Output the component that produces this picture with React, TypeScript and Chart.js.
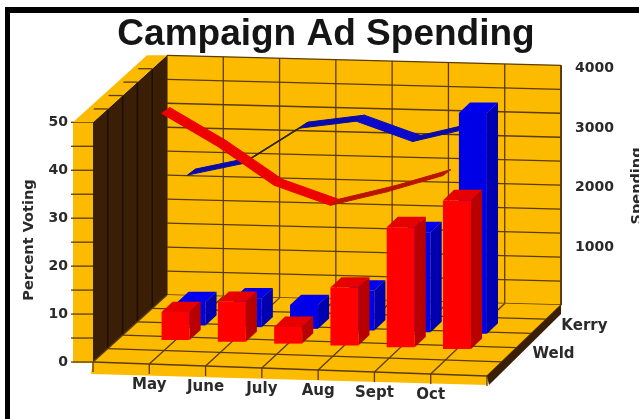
import React, { useEffect, useRef } from "react";
import { Chart, registerables } from "chart.js";

Chart.register(...registerables);

// Months sit on the grid divisions; the blank end slots frame the floor.
const months = ["", "May", "June", "July", "Aug", "Sept", "Oct", ""];
const weldSpending = [null, 470, 670, 280, 970, 2010, 2490, null];
const kerrySpending = [null, 395, 485, 400, 670, 1675, 3700, null];
const weldPercent = [null, 49.8, 43.3, 35.6, 31.8, 35, 38.8, null];
const kerryPercent = [null, 32, 34.8, 42.5, 44.3, 40.4, 43.5, null];
const seriesNames = ["Weld", "Kerry"];
const percentTicks = [0, 5, 10, 15, 20, 25, 30, 35, 40, 45, 50];
const spendingTicks = [1000, 2000, 3000, 4000];

// Depth of each series across the floor, 0 = front edge, 1 = back wall.
const WELD_BAR_DEPTH = 0.355;
const KERRY_DEPTH = 0.57;
const WELD_LINE_DEPTH = 0.22;
const WELD_ROW_LABEL = 0.25;
const KERRY_ROW_LABEL = 0.64;

const YELLOW = "#fdbb00";
const GRID = "#5c3b00";
const BROWN = "#3a1e06";
const LABEL_FONT = "bold 15px 'DejaVu Sans'";
const TEXT = "#2a2a2a";

type Pt = [number, number];

function poly(ctx: CanvasRenderingContext2D, pts: Pt[], fill?: string, stroke?: string, lw = 1) {
  ctx.beginPath();
  pts.forEach((q, i) => (i ? ctx.lineTo(q[0], q[1]) : ctx.moveTo(q[0], q[1])));
  ctx.closePath();
  if (fill) {
    ctx.fillStyle = fill;
    ctx.fill();
  }
  if (stroke) {
    ctx.strokeStyle = stroke;
    ctx.lineWidth = lw;
    ctx.stroke();
  }
}

function seg(ctx: CanvasRenderingContext2D, a: Pt, b: Pt, color = GRID, lw = 1.3) {
  ctx.beginPath();
  ctx.moveTo(a[0], a[1]);
  ctx.lineTo(b[0], b[1]);
  ctx.strokeStyle = color;
  ctx.lineWidth = lw;
  ctx.stroke();
}

// Oblique projection: x along the front edge, h above the floor, d into the depth.
function projector(chart: any) {
  const { left, right, bottom } = chart.chartArea;
  return (x: number, h: number, d: number): Pt => {
    const t = (x - left) / (right - left);
    return [x + 74 * d, bottom + 14 * t - d * (67 + 4 * t) - h];
  };
}

const scene3d = {
  id: "scene3d",
  beforeDraw(chart: any) {
    const { ctx, width, height } = chart;
    ctx.save();
    ctx.fillStyle = "#ffffff";
    ctx.fillRect(0, 0, width, height);
    ctx.fillStyle = "#000000";
    ctx.fillRect(5, 7, width - 5, 6);
    ctx.fillRect(5, 7, 5, height - 7);
    ctx.restore();
  },
  beforeDatasetsDraw(chart: any) {
    const { ctx, chartArea, scales } = chart;
    const p = projector(chart);
    const { left, right } = chartArea;
    const yL = scales.y;
    const zero = yL.getPixelForValue(0);
    const top = zero - yL.getPixelForValue(50);
    const strip = 20;
    const rails = [0.2, 0.4, 0.6, 0.8];
    const slots = months.map((_, i) => scales.x.getPixelForTick(i));
    const heights = yL.ticks.map((t: any) => zero - yL.getPixelForValue(t.value));
    ctx.save();

    // Back wall
    poly(ctx, [p(left, 0, 1), p(left, top, 1), p(right, top, 1), p(right, 0, 1)], YELLOW);
    heights.forEach((h: number) => seg(ctx, p(left, h, 1), p(right, h, 1)));
    slots.forEach((x: number) => seg(ctx, p(x, 0, 1), p(x, top, 1)));
    seg(ctx, p(right, 0, 1), p(right, top, 1), GRID, 2);

    // Left wall, front lip and top lip
    poly(ctx, [p(left, 0, 0), p(left, top, 0), p(left, top, 1), p(left, 0, 1)], BROWN);
    rails.forEach((d) => seg(ctx, p(left, 0, d), p(left, top, d), "#1f0f02", 1.5));
    poly(ctx, [[left - strip, zero - top], [left, zero - top], [left, zero + 1], [left - strip, zero + 1]], YELLOW);
    heights.forEach((h: number) => seg(ctx, [left - strip - 2, zero - h], [left, zero - h]));
    const tf = p(left, top, 0);
    const tb = p(left, top, 1);
    poly(ctx, [[tf[0] - strip, tf[1]], [tb[0] - strip, tb[1]], tb, tf], YELLOW);
    rails.forEach((d) => {
      const q = p(left, top, d);
      seg(ctx, [q[0] - strip * 0.7, q[1]], q);
    });

    // Floor with its front lip and dark right edge
    poly(ctx, [p(left, 0, 0), p(right, 0, 0), p(right, 0, 1), p(left, 0, 1)], YELLOW);
    rails.forEach((d) => seg(ctx, p(left, 0, d), p(right, 0, d)));
    slots.forEach((x: number) => seg(ctx, p(x, 0, 0), p(x, 0, 1)));
    const fl = p(left, 0, 0);
    const fr = p(right, 0, 0);
    const br = p(right, 0, 1);
    poly(ctx, [fl, fr, [fr[0], fr[1] + 9], [fl[0] - 2, fl[1] + 12]], YELLOW);
    seg(ctx, fl, fr);
    slots.forEach((x: number) => {
      const q = p(x, 0, 0);
      seg(ctx, q, [q[0], q[1] + 10]);
    });
    poly(ctx, [fr, br, [br[0], br[1] + 9], [fr[0] + 2, fr[1] + 9]], BROWN);

    // Month labels follow the sloping front edge
    ctx.font = LABEL_FONT;
    ctx.fillStyle = TEXT;
    ctx.textAlign = "center";
    ctx.textBaseline = "middle";
    months.forEach((m, i) => {
      const q = p(slots[i], 0, 0);
      if (m) ctx.fillText(m, q[0], q[1] + 21);
    });

    // Row labels beside the floor's right edge
    ctx.textAlign = "left";
    [WELD_ROW_LABEL, KERRY_ROW_LABEL].forEach((d, i) => {
      const q = p(right, 0, d);
      ctx.fillText(seriesNames[i], q[0] + 27, q[1] - 4);
    });

    // Axis titles
    ctx.font = "bold 14.5px 'DejaVu Sans'";
    ctx.textAlign = "center";
    ctx.save();
    ctx.translate(29, 240);
    ctx.rotate(-Math.PI / 2);
    ctx.fillText("Percent Voting", 0, 0);
    ctx.restore();
    ctx.translate(637, 186);
    ctx.rotate(-Math.PI / 2);
    ctx.fillText("Spending", 0, 0);
    ctx.restore();
  },
  beforeDatasetDraw(chart: any, args: any) {
    const { ctx } = chart;
    const p = projector(chart);
    const meta = args.meta;
    const ds = chart.data.datasets[args.index];
    const d = ds.depth;
    ctx.save();
    if (meta.type === "bar") {
      const deep = 0.15;
      meta.data.forEach((el: any, i: number) => {
        if (ds.data[i] === null) return;
        const h = el.base - el.y;
        const half = el.width / 2;
        const floor = p(el.x, 0, d);
        const back = p(el.x, 0, d + deep);
        const a: Pt = [floor[0] - half, floor[1]];
        const b: Pt = [floor[0] + half, floor[1]];
        const c: Pt = [back[0] + half, back[1]];
        const up = (q: Pt): Pt => [q[0], q[1] - h];
        poly(ctx, [b, c, up(c), up(b)], ds.sideColor);
        poly(ctx, [up(a), up(b), up(c), [back[0] - half, back[1] - h]], ds.topColor);
        poly(ctx, [a, b, up(b), up(a)], ds.backgroundColor);
      });
    } else {
      const wx = 4;
      const wy = -3;
      const zero = meta.yScale.getPixelForValue(0);
      const pts = meta.data
        .filter((_: any, i: number) => ds.data[i] !== null)
        .map((el: any) => p(el.x, zero - el.y, d));
      for (let i = 0; i + 1 < pts.length; i++) {
        const s = pts[i];
        const e = pts[i + 1];
        const m = (e[1] - s[1]) / (e[0] - s[0]);
        const fill = m > 0 ? ds.backgroundColor : m < -0.45 ? ds.edgeColor : ds.borderColor;
        poly(
          ctx,
          [
            [s[0] - wx, s[1] - wy],
            [e[0] - wx, e[1] - wy],
            [e[0] + wx, e[1] + wy],
            [s[0] + wx, s[1] + wy],
          ],
          fill,
          fill,
          1
        );
      }
    }
    ctx.restore();
    return false;
  },
};

// Fixes an axis box width and drops the tick padding from the layout's reserve.
const fixedAxis = (width: number) => (s: any) => {
  s.width = width;
  s.paddingTop = 0;
  s.paddingBottom = 0;
};

export default function App() {
  const ref = useRef<HTMLCanvasElement>(null);
  useEffect(() => {
    const chart = new Chart(ref.current as HTMLCanvasElement, {
      type: "bar",
      plugins: [scene3d],
      data: {
        labels: months,
        datasets: [
          {
            type: "line",
            label: "Weld share",
            data: weldPercent,
            yAxisID: "y",
            depth: WELD_LINE_DEPTH,
            backgroundColor: "#ee0000",
            borderColor: "#b81400",
            edgeColor: "#801000",
            pointRadius: 0,
            order: 1,
          },
          {
            label: "Weld",
            data: weldSpending,
            yAxisID: "yR",
            depth: WELD_BAR_DEPTH,
            grouped: false,
            barThickness: 28,
            backgroundColor: "#ff0000",
            topColor: "#e60000",
            sideColor: "#b80000",
            order: 2,
          },
          {
            label: "Kerry",
            data: kerrySpending,
            yAxisID: "yR",
            depth: KERRY_DEPTH,
            grouped: false,
            barThickness: 28,
            backgroundColor: "#0000e6",
            topColor: "#0000ee",
            sideColor: "#0000b0",
            order: 3,
          },
          {
            type: "line",
            label: "Kerry share",
            data: kerryPercent,
            yAxisID: "y",
            depth: KERRY_DEPTH,
            backgroundColor: "#0a0ac8",
            borderColor: "#0a0aa8",
            edgeColor: "#2a2010",
            pointRadius: 0,
            order: 4,
          },
        ] as any,
      },
      options: {
        responsive: false,
        animation: false,
        layout: { padding: { left: 13, right: 0, top: 0, bottom: 57 } },
        plugins: {
          legend: { display: false },
          tooltip: { enabled: false },
          title: {
            display: true,
            text: "Campaign Ad Spending",
            color: "#151515",
            font: { family: "'Liberation Sans'", size: 37, weight: "bold" },
            padding: { top: 13, bottom: 11 },
          },
        },
        scales: {
          x: { display: false, offset: false, grid: { display: false } },
          y: {
            position: "left",
            min: 0,
            max: 61.25,
            afterFit: fixedAxis(80),
            afterBuildTicks: (s: any) => {
              s.ticks = percentTicks.map((value) => ({ value }));
            },
            grid: { display: false, drawTicks: false },
            border: { display: false },
            ticks: {
              autoSkip: false,
              padding: 25,
              color: TEXT,
              font: { family: "'DejaVu Sans'", size: 14, weight: "bold" },
              callback: (v: any) => (v % 10 === 0 ? String(v) : ""),
            },
          },
          yR: {
            position: "right",
            min: -920,
            max: 4000,
            afterFit: fixedAxis(152),
            afterBuildTicks: (s: any) => {
              s.ticks = spendingTicks.map((value) => ({ value }));
            },
            grid: { display: false, drawTicks: false },
            border: { display: false },
            ticks: {
              autoSkip: false,
              padding: 88,
              color: TEXT,
              font: { family: "'DejaVu Sans'", size: 14, weight: "bold" },
              callback: (v: any) => String(v),
            },
          },
        },
      } as any,
    });
    return () => chart.destroy();
  }, []);
  return (
    <div style={{ position: "fixed", left: 0, top: 0 }}>
      <canvas ref={ref} width={639} height={419} style={{ display: "block" }} />
    </div>
  );
}
